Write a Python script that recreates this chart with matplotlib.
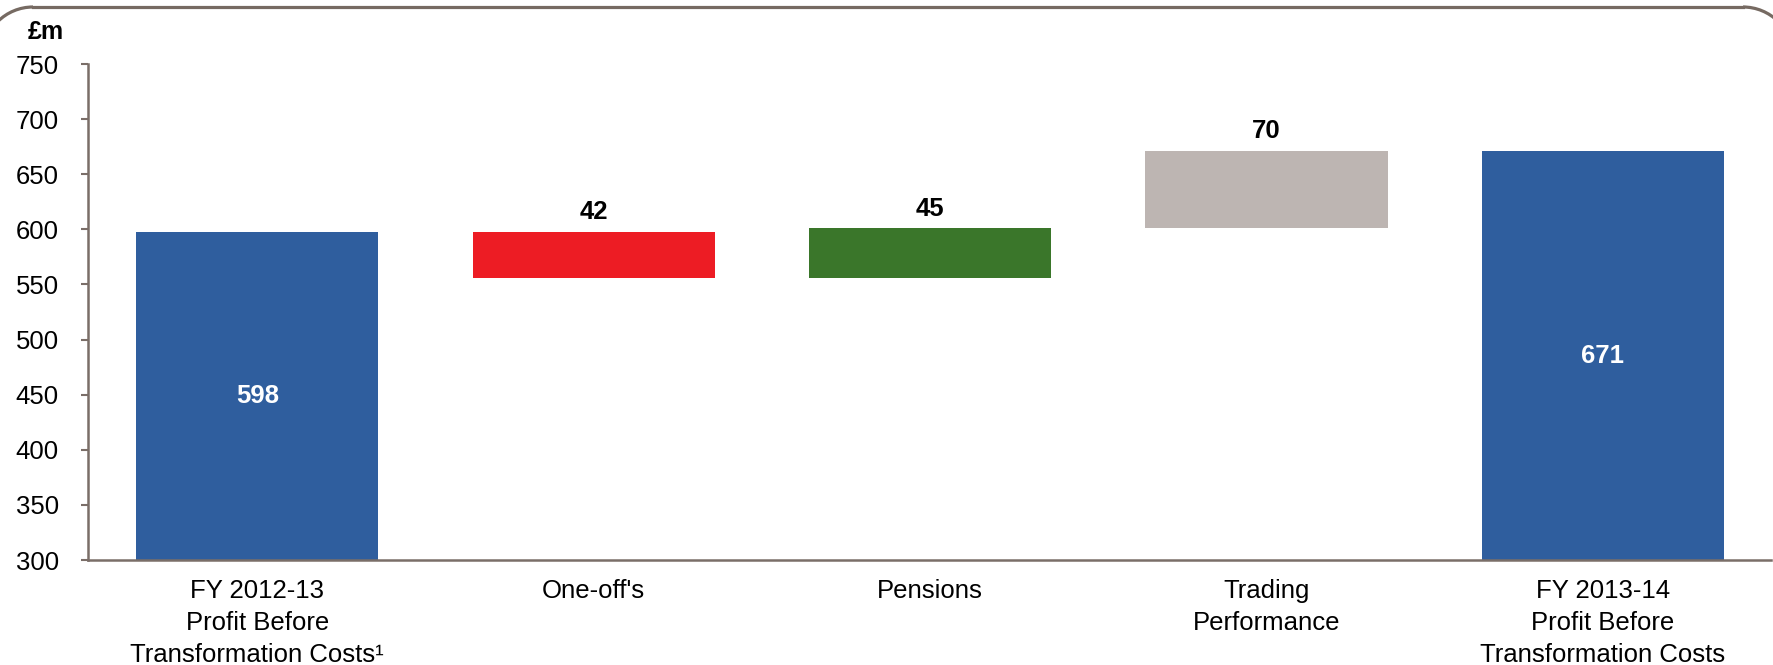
import matplotlib
matplotlib.use("Agg")
import matplotlib.pyplot as plt
from matplotlib.patches import Arc
from matplotlib.lines import Line2D

plt.rcParams['font.family'] = ['Liberation Sans', 'DejaVu Sans']

# data
categories = ["FY 2012-13\nProfit Before\nTransformation Costs¹",
              "One-off's",
              "Pensions",
              "Trading\nPerformance",
              "FY 2013-14\nProfit Before\nTransformation Costs"]
start_value = 598
changes = [-42, 45, 70]
end_value = 671
step_labels = ["42", "45", "70"]
y_ticks = [300, 350, 400, 450, 500, 550, 600, 650, 700, 750]

blue = "#2f5e9e"
step_colors = ["#ed1c24", "#3a762a", "#bdb5b2"]
axis_col = "#7a6e68"
frame_col = "#766a62"

fig = plt.figure(figsize=(17.73, 6.65), dpi=100)
ax = fig.add_axes([88 / 1773, 105 / 665, 1683 / 1773, 496 / 665])

base = 300
w = 0.72

# total bars
ax.bar(0, start_value - base, bottom=base, width=w, color=blue, zorder=2)
ax.bar(4, end_value - base, bottom=base, width=w, color=blue, zorder=2)
ax.text(0, (start_value + base) / 2, str(start_value), ha='center', va='center',
        color='white', fontsize=18.5, fontweight='bold')
ax.text(4, (end_value + base) / 2, str(end_value), ha='center', va='center',
        color='white', fontsize=18.5, fontweight='bold')

# floating steps
level = start_value
for i, (c, col, lab) in enumerate(zip(changes, step_colors, step_labels)):
    lo = min(level, level + c)
    hi = max(level, level + c)
    ax.bar(i + 1, hi - lo, bottom=lo, width=w, color=col, zorder=2)
    ax.text(i + 1, hi + 7, lab, ha='center', va='bottom',
            fontsize=18.5, fontweight='bold', color='black')
    level += c

ax.set_xlim(-0.503, 4.5)
ax.set_ylim(300, 750)
ax.set_yticks(y_ticks)
ax.set_yticklabels([str(v) for v in y_ticks], fontsize=18.5)
ax.set_xticks(range(len(categories)))
ax.set_xticklabels(categories, fontsize=18.5, linespacing=1.42)

ax.tick_params(axis='y', length=5, width=1.5, color=axis_col, pad=16)
ax.tick_params(axis='x', length=0, pad=14)
for s in ['top', 'right']:
    ax.spines[s].set_visible(False)
for s in ['left', 'bottom']:
    ax.spines[s].set_color(axis_col)
    ax.spines[s].set_linewidth(1.8)
ax.spines['bottom'].set_zorder(3)

fig.text(46 / 1773, 1 - 32 / 665, "£m", ha='center', va='center',
         fontsize=18, fontweight='bold')

# rounded frame: top edge plus the two corners, sides run off the picture
tr = fig.dpi_scale_trans
r = 0.5
top = 6.58
xl, xr = 0.33, 17.43
fig.add_artist(Line2D([xl, xr], [top, top], transform=tr,
                      color=frame_col, linewidth=2.3))
fig.add_artist(Arc((xl, top - r), 2 * r, 2 * r, theta1=90, theta2=180,
                   transform=tr, color=frame_col, linewidth=2.3))
fig.add_artist(Arc((xr, top - r), 2 * r, 2 * r, theta1=0, theta2=90,
                   transform=tr, color=frame_col, linewidth=2.3))

fig.savefig("out.png", dpi=100)
